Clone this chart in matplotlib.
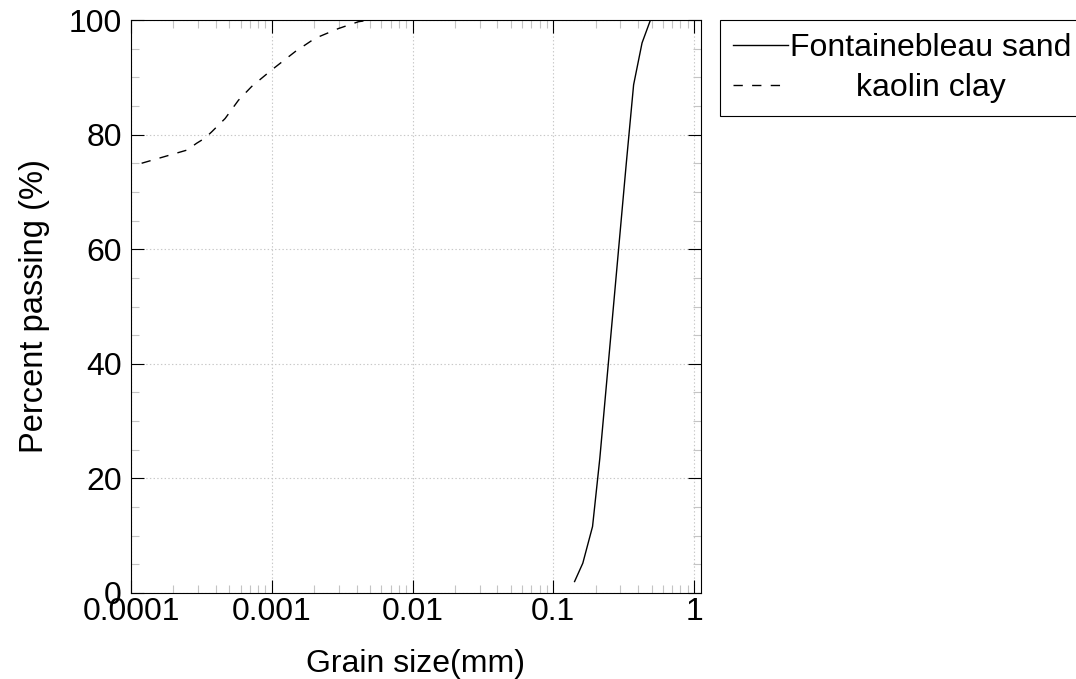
import matplotlib
matplotlib.use('Agg')
import matplotlib.pyplot as plt
import numpy as np
from matplotlib.ticker import LogLocator, MultipleLocator, NullFormatter

plt.rcParams['font.family'] = ['Liberation Sans', 'DejaVu Sans']
plt.rcParams['font.size'] = 23
plt.rcParams['lines.scale_dashes'] = False

# grain size distribution
sand_d = [0.1416, 0.162, 0.19, 0.214, 0.33, 0.372, 0.427, 0.49]
sand_p = [2.0, 5.2, 11.6, 23.5, 75.0, 88.7, 96.0, 100.0]

clay_d = [1.19e-4, 2.5e-4, 2.93e-4, 3.36e-4, 3.75e-4, 4.66e-4, 5.8e-4, 7.2e-4,
          1.0e-3, 1.47e-3, 2.03e-3, 2.97e-3, 4.13e-3, 5.0e-3]
clay_p = [75.0, 77.3, 78.5, 79.4, 80.5, 82.8, 86.0, 88.4,
          91.3, 94.5, 96.8, 98.5, 99.7, 100.0]

xticks = [1e-4, 1e-3, 1e-2, 1e-1, 1]
xticklabels = ['0.0001', '0.001', '0.01', '0.1', '1']
yticks = [0, 20, 40, 60, 80, 100]

fig = plt.figure(figsize=(10.76, 6.79), dpi=100)
ax = fig.add_axes([131/1076, 86/679, 570/1076, 573/679])

ax.plot(sand_d, sand_p, color='k', lw=1.0, label='Fontainebleau sand')
ax.plot(clay_d, clay_p, color='k', lw=1.0, dashes=(6.7, 6.7), label='kaolin clay')

ax.set_xscale('log')
ax.set_xlim(1e-4, 1.12)
ax.set_ylim(0, 100)
ax.set_xticks(xticks)
ax.set_xticklabels(xticklabels)
ax.xaxis.set_minor_locator(LogLocator(base=10, subs=np.arange(2, 10)))
ax.xaxis.set_minor_formatter(NullFormatter())
ax.set_yticks(yticks)
ax.yaxis.set_minor_locator(MultipleLocator(5))

ax.tick_params(which='major', direction='in', length=9.5, width=0.8, color='k',
               top=True, right=True)
ax.tick_params(which='minor', direction='in', length=6, width=0.8, color='#c4c4c4',
               top=True, right=True)
ax.tick_params(axis='x', which='major', pad=3)
ax.tick_params(axis='y', which='major', pad=6.5)
ax.grid(True, which='major', ls=':', color='#c8c8c8', lw=0.8)
ax.set_axisbelow(True)
for s in ax.spines.values():
    s.set_linewidth(0.8)

ax.set_xlabel('Grain size(mm)')
ax.xaxis.label.set_va('baseline')
ax.xaxis.set_label_coords(0.5, (593 - 672) / 573)
ax.set_ylabel('Percent passing (%)', fontsize=23.5)
ax.yaxis.set_label_coords((50 - 131) / 570, 0.5)

leg = fig.legend(loc='upper left', bbox_to_anchor=(720/1076, 1 - 20/679),
                 bbox_transform=fig.transFigure, frameon=True, fancybox=False,
                 edgecolor='k', framealpha=1, borderpad=0.42, borderaxespad=0,
                 handlelength=1.72, handletextpad=0.05, labelspacing=0.3)
leg.get_frame().set_linewidth(0.8)

# center the legend texts like the original
fig.canvas.draw()
r = fig.canvas.get_renderer()
texts = leg.get_texts()
widths = [t.get_window_extent(r).width for t in texts]
for t, w in zip(texts, widths):
    t.set_ha('center')
    t.set_x((max(widths) - w) / 2)

fig.savefig('out.png', dpi=100)
